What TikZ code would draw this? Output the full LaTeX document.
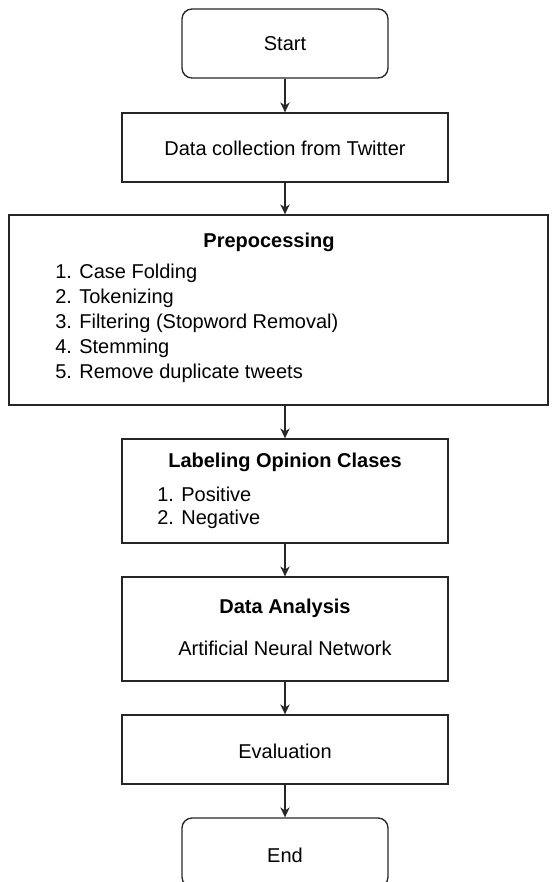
\documentclass[tikz,border=0pt]{standalone}
\usepackage{fontspec}
\setmainfont{Liberation Sans}
\usetikzlibrary{arrows.meta}
\begin{document}
\begin{tikzpicture}[x=0.75pt,y=-0.75pt,
  font=\fontsize{15}{18}\selectfont,
  box/.style={draw=black!85, line width=1pt, inner sep=0pt},
  term/.style={box, rounded corners=7.5pt},
  txt/.style={inner sep=0pt},
  item/.style={inner sep=0pt, anchor=west},
  arr/.style={-{Stealth[length=7.5pt,width=7pt]}, line width=0.9pt, draw=black!85}]
\useasboundingbox (0,0) rectangle (555,882);
% boxes
\node[term, minimum width=154.5pt, minimum height=51.75pt] (start) at (285,43.5) {};
\node[box, minimum width=244.5pt, minimum height=51.75pt] (data) at (285,147.5) {};
\node[box, minimum width=404.25pt, minimum height=142.5pt] (prep) at (278.5,310) {};
\node[box, minimum width=244.5pt, minimum height=78pt] (lab) at (285,491) {};
\node[box, minimum width=244.5pt, minimum height=78pt] (ana) at (285,629) {};
\node[box, minimum width=244.5pt, minimum height=51.75pt] (eval) at (285,749.5) {};
\node[term, minimum width=154.5pt, minimum height=51.75pt] (end) at (285,852.5) {};
% texts
\node[txt] (tstart) at (285,44) {Start};
\node[txt] (tdata) at (285,148) {Data collection from Twitter};
\node[txt, font=\fontsize{15}{18}\selectfont\bfseries] (tprep) at (269,242) {Prepocessing};
\node[item] (p1) at (55,273) {1. Case Folding};
\node[item] (p2) at (55,298) {2. Tokenizing};
\node[item] (p3) at (55,323) {3. Filtering (Stopword Removal)};
\node[item] (p4) at (55,348) {4. Stemming};
\node[item] (p5) at (55,373) {5. Remove duplicate tweets};
\node[txt, font=\fontsize{15}{18}\selectfont\bfseries] (tlab) at (285,462) {Labeling Opinion Clases};
\node[item] (l1) at (157,494) {1. Positive};
\node[item] (l2) at (157,519) {2. Negative};
\node[txt, font=\fontsize{15}{18}\selectfont\bfseries] (tana) at (285,608) {Data Analysis};
\node[txt] (tann) at (285,648) {Artificial Neural Network};
\node[txt] (teval) at (285,751) {Evaluation};
\node[txt] (tend) at (285,855) {End};
% arrows
\draw[arr] (start) -- (data);
\draw[arr] (data) -- (data |- prep.north);
\draw[arr] (prep.south -| lab) -- (lab);
\draw[arr] (lab) -- (ana);
\draw[arr] (ana) -- (eval);
\draw[arr] (eval) -- (end);
\end{tikzpicture}
\end{document}
